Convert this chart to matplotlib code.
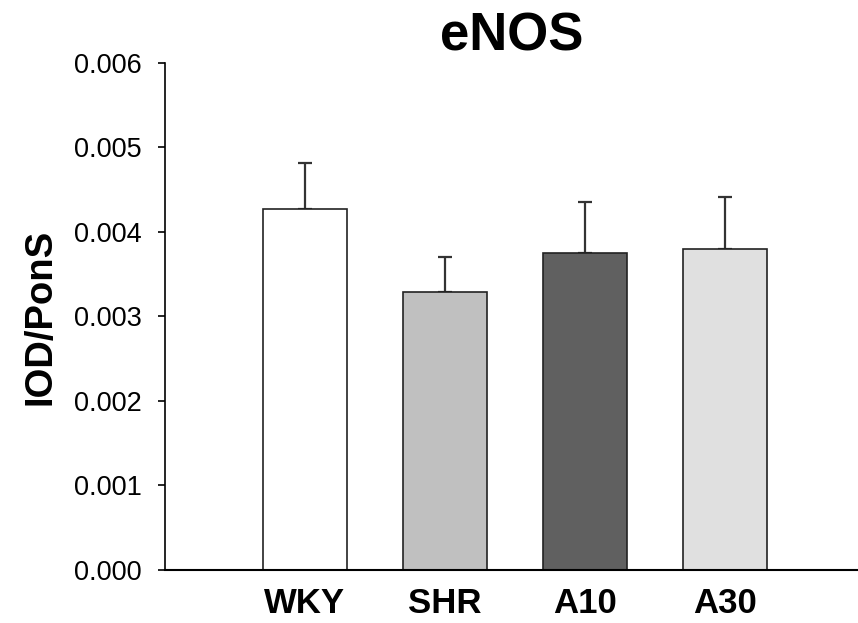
import matplotlib
matplotlib.use("Agg")
import matplotlib.pyplot as plt

groups = ["WKY", "SHR", "A10", "A30"]
means = [0.00427, 0.00329, 0.00375, 0.00380]
errs = [0.00055, 0.00041, 0.00060, 0.00061]
colors = ["#ffffff", "#c0c0c0", "#606060", "#e0e0e0"]
yticks = [0.000, 0.001, 0.002, 0.003, 0.004, 0.005, 0.006]

plt.rcParams["font.family"] = ["Liberation Sans", "DejaVu Sans"]

fig = plt.figure(figsize=(8.58, 6.23), dpi=100)
ax = fig.add_axes([0.1923, 0.0851, 0.8077, 0.8138])

x = list(range(len(groups)))
ax.bar(x, means, width=0.6, color=colors, edgecolor="#222222", linewidth=1.2, zorder=2)
ax.errorbar(x, means, yerr=[[0] * len(errs), errs], fmt="none", ecolor="#333333",
            elinewidth=1.6, capsize=5, capthick=1.6, zorder=1)

ax.set_xlim(-1.0, 3.95)
ax.set_ylim(0, 0.006)
ax.set_yticks(yticks)
ax.set_yticklabels([f"{v:.3f}" for v in yticks], fontsize=19.5)
ax.set_xticks(x)
ax.set_xticklabels(groups, fontsize=25, fontweight="bold")
ax.tick_params(axis="x", length=0, pad=12)
ax.tick_params(axis="y", length=5, width=1.2, pad=12, direction="out")

for s in ["top", "right"]:
    ax.spines[s].set_visible(False)
ax.spines["left"].set_linewidth(1.2)
ax.spines["bottom"].set_linewidth(1.5)

ax.set_ylabel("IOD/PonS", fontsize=27.5, fontweight="bold", labelpad=11)
ax.set_title("eNOS", fontsize=38, fontweight="bold", pad=9)

fig.savefig("out.png", dpi=100)
